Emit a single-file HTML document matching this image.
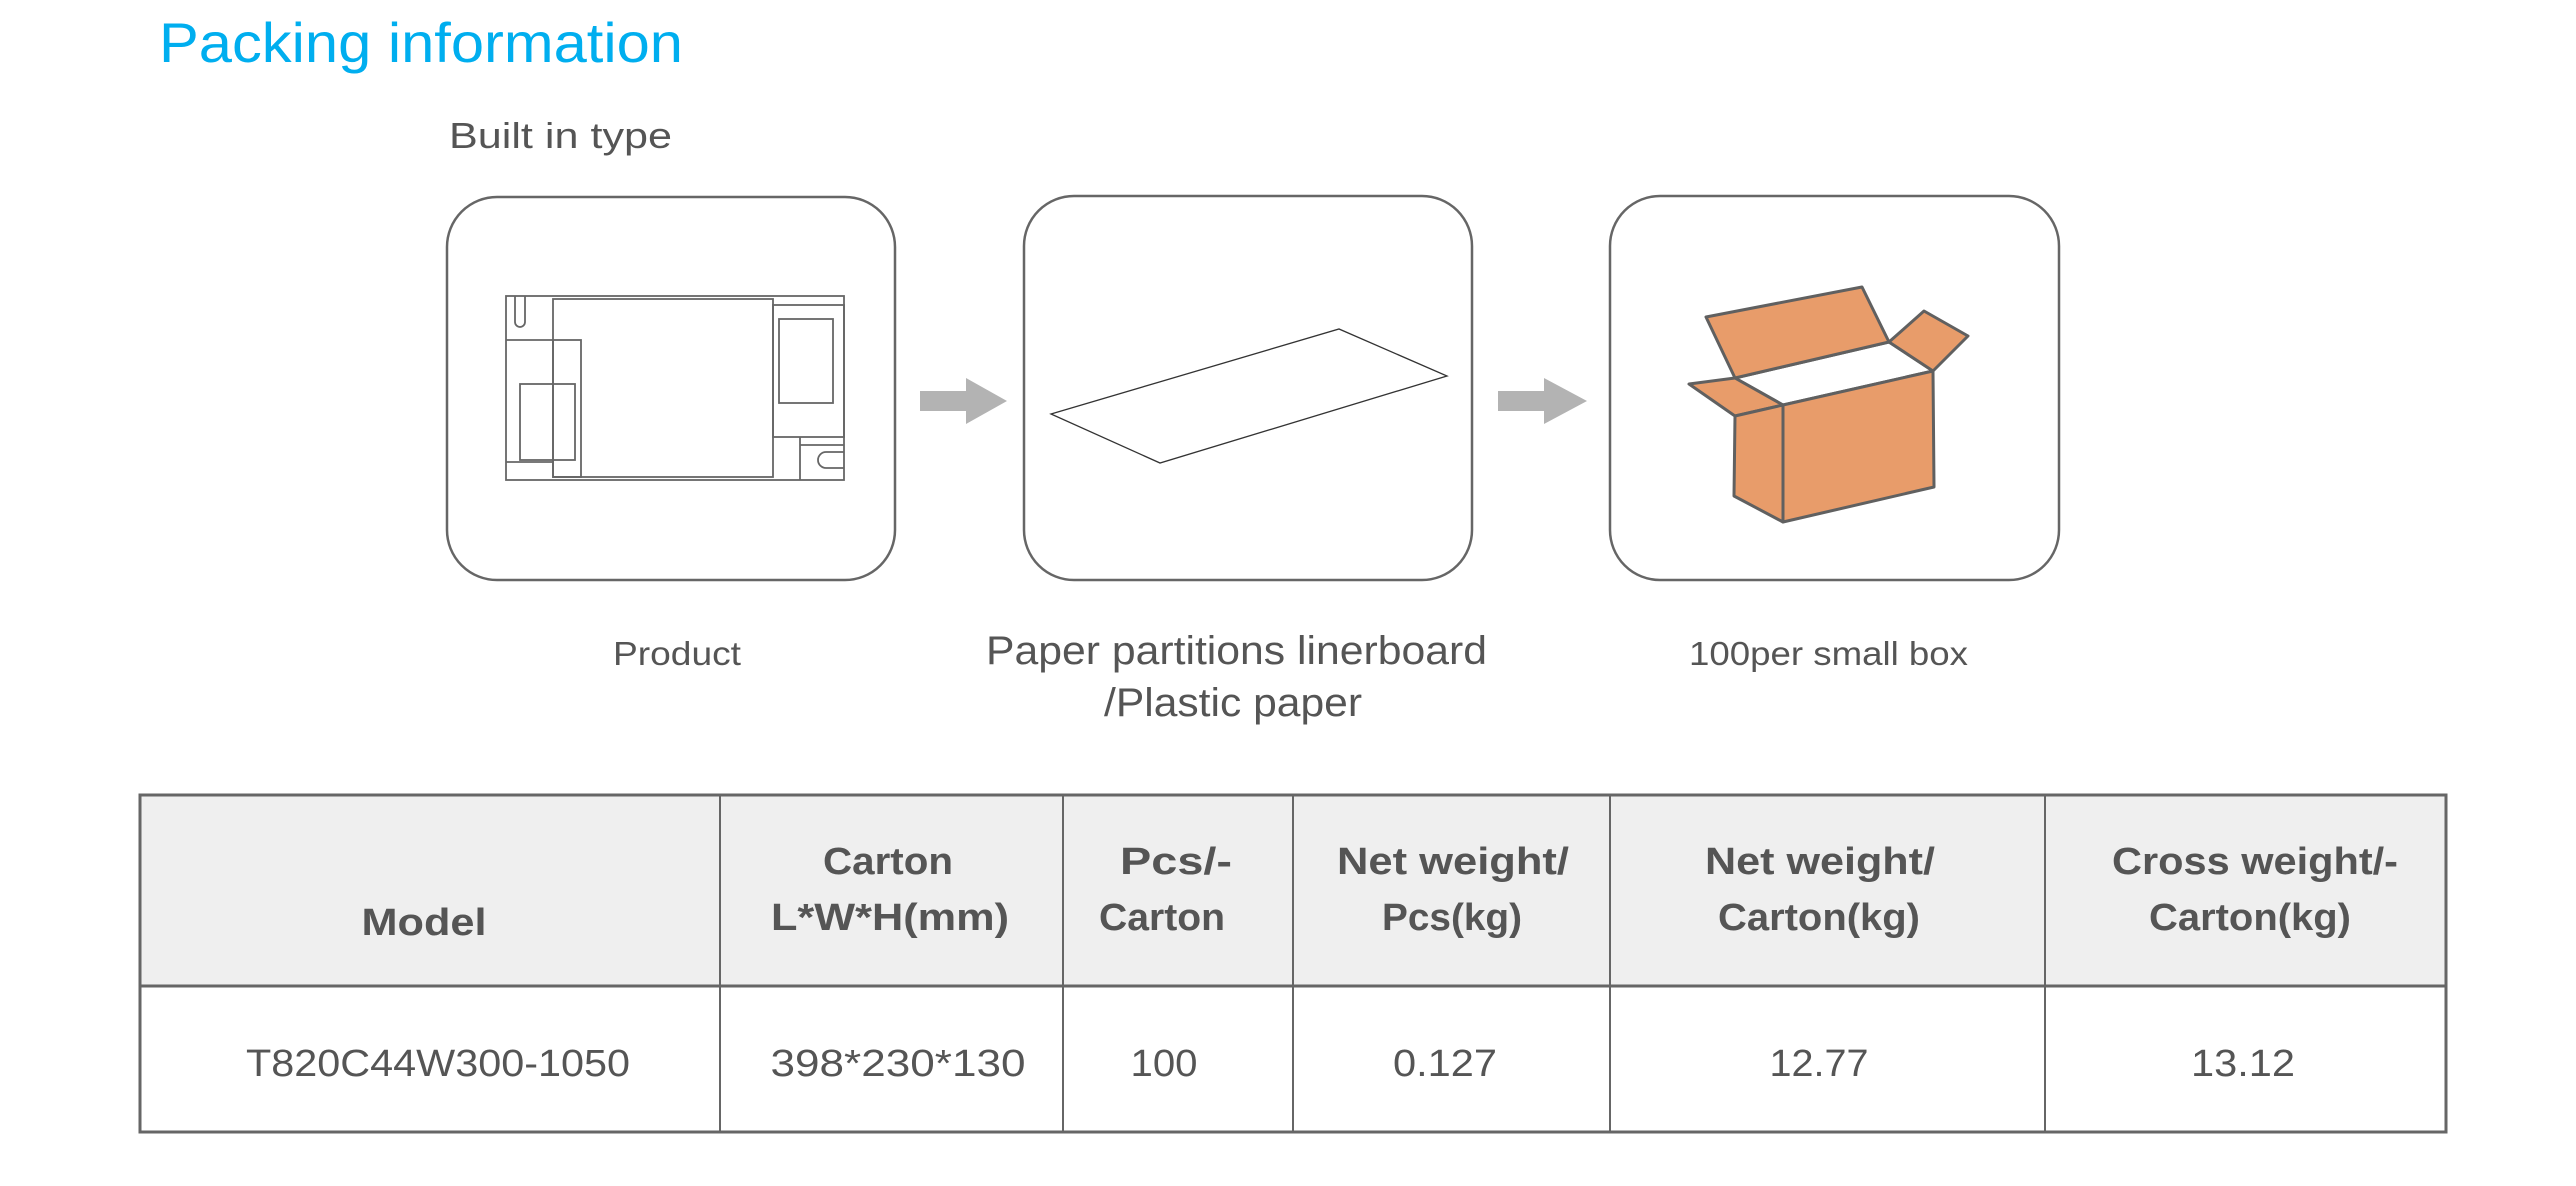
<!DOCTYPE html>
<html><head><meta charset="utf-8"><style>html,body{margin:0;padding:0;background:#fff;}svg{display:block}</style></head>
<body>
<svg width="2576" height="1186" viewBox="0 0 2576 1186" xmlns="http://www.w3.org/2000/svg" font-family="Liberation Sans, sans-serif">
<text x="159" y="62" font-size="56" fill="#00aeef" textLength="524" lengthAdjust="spacingAndGlyphs">Packing information</text>
<text x="449" y="148" font-size="36" fill="#555" textLength="223" lengthAdjust="spacingAndGlyphs">Built in type</text>

<g fill="none" stroke="#666" stroke-width="2.5">
<rect x="447" y="197" width="448" height="383" rx="50"/>
<rect x="1024" y="196" width="448" height="384" rx="50"/>
<rect x="1610" y="196" width="449" height="384" rx="50"/>
</g>

<polygon points="920,391 966,391 966,378 1007,401 966,424 966,411 920,411" fill="#b3b3b3"/>
<polygon points="1498,391 1544,391 1544,378 1587,401 1544,424 1544,411 1498,411" fill="#b3b3b3"/>

<g fill="none" stroke="#666" stroke-width="1.8">
<rect x="506" y="296" width="338" height="184"/>
<rect x="553" y="299" width="220" height="178"/>
<line x1="506" y1="340" x2="553" y2="340"/>
<line x1="506" y1="462" x2="553" y2="462"/>
<rect x="520" y="384" width="55" height="76"/>
<rect x="553" y="340" width="28" height="137"/>
<path d="M515 296 V322 a5 5 0 0 0 10 0 V296"/>
<rect x="773" y="305" width="71" height="132"/>
<rect x="779" y="319" width="54" height="84"/>
<line x1="800" y1="437" x2="800" y2="480"/>
<line x1="800" y1="445" x2="844" y2="445"/>
<path d="M844 452 H826 a8 8 0 0 0 0 16 H844"/>
</g>

<polygon points="1051,414 1339,329 1447,376 1160,463" fill="none" stroke="#333" stroke-width="1.3"/>

<g stroke="#606060" stroke-width="3" stroke-linejoin="round">
<polygon points="1735,378 1889,342 1933,371 1783,405" fill="#fff"/>
<polygon points="1706,317 1862,287 1889,342 1735,378" fill="#e89c6a"/>
<polygon points="1889,342 1924,311 1968,336 1933,371" fill="#e89c6a"/>
<polygon points="1689,384 1735,378 1783,405 1735,416" fill="#e89c6a"/>
<polygon points="1783,405 1933,371 1934,487 1783,522" fill="#e89c6a"/>
<polygon points="1735,416 1783,405 1783,522 1734,496" fill="#e89c6a"/>
</g>

<g fill="#555">
<text x="613" y="665" font-size="33" textLength="128" lengthAdjust="spacingAndGlyphs">Product</text>
<text x="986" y="664" font-size="40" textLength="501" lengthAdjust="spacingAndGlyphs">Paper partitions linerboard</text>
<text x="1104" y="716" font-size="40" textLength="258" lengthAdjust="spacingAndGlyphs">/Plastic paper</text>
<text x="1689" y="665" font-size="33" textLength="279" lengthAdjust="spacingAndGlyphs">100per small box</text>
</g>

<rect x="140" y="795" width="2306" height="191" fill="#efefef"/>
<g stroke="#666" fill="none">
<rect x="140" y="795" width="2306" height="337" stroke-width="3"/>
<line x1="140" y1="986" x2="2446" y2="986" stroke-width="3"/>
<g stroke-width="2">
<line x1="720" y1="795" x2="720" y2="1132"/>
<line x1="1063" y1="795" x2="1063" y2="1132"/>
<line x1="1293" y1="795" x2="1293" y2="1132"/>
<line x1="1610" y1="795" x2="1610" y2="1132"/>
<line x1="2045" y1="795" x2="2045" y2="1132"/>
</g>
</g>
<g fill="#555" font-size="38" font-weight="bold" text-anchor="middle">
<text x="424" y="935" textLength="125" lengthAdjust="spacingAndGlyphs">Model</text>
<text x="888" y="874" textLength="130" lengthAdjust="spacingAndGlyphs">Carton</text>
<text x="890" y="930" textLength="238" lengthAdjust="spacingAndGlyphs">L*W*H(mm)</text>
<text x="1176" y="874" textLength="112" lengthAdjust="spacingAndGlyphs">Pcs/-</text>
<text x="1162" y="930" textLength="126" lengthAdjust="spacingAndGlyphs">Carton</text>
<text x="1453" y="874" textLength="232" lengthAdjust="spacingAndGlyphs">Net weight/</text>
<text x="1452" y="930" textLength="140" lengthAdjust="spacingAndGlyphs">Pcs(kg)</text>
<text x="1820" y="874" textLength="230" lengthAdjust="spacingAndGlyphs">Net weight/</text>
<text x="1819" y="930" textLength="202" lengthAdjust="spacingAndGlyphs">Carton(kg)</text>
<text x="2255" y="874" textLength="286" lengthAdjust="spacingAndGlyphs">Cross weight/-</text>
<text x="2250" y="930" textLength="202" lengthAdjust="spacingAndGlyphs">Carton(kg)</text>
</g>
<g fill="#555" font-size="38" text-anchor="middle">
<text x="438" y="1076" textLength="384" lengthAdjust="spacingAndGlyphs">T820C44W300-1050</text>
<text x="898" y="1076" textLength="255" lengthAdjust="spacingAndGlyphs">398*230*130</text>
<text x="1164" y="1076" textLength="67" lengthAdjust="spacingAndGlyphs">100</text>
<text x="1445" y="1076" textLength="104" lengthAdjust="spacingAndGlyphs">0.127</text>
<text x="1819" y="1076" textLength="99" lengthAdjust="spacingAndGlyphs">12.77</text>
<text x="2243" y="1076" textLength="104" lengthAdjust="spacingAndGlyphs">13.12</text>
</g>
</svg>
</body></html>
